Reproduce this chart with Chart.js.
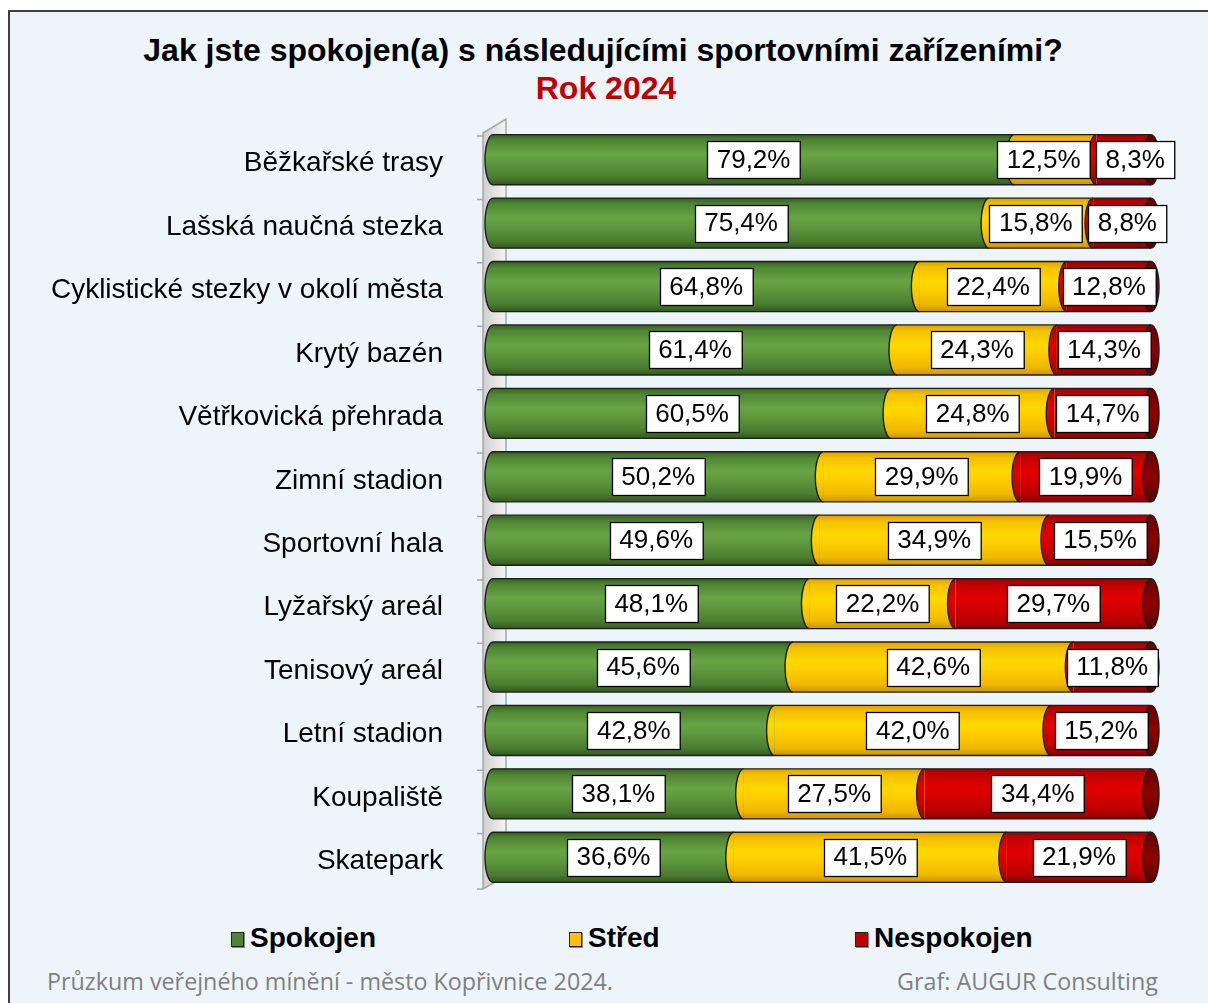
<!DOCTYPE html>
<html>
<head>
<meta charset="utf-8">
<script src="https://cdn.jsdelivr.net/npm/chart.js@4.4.1/dist/chart.umd.min.js"></script>
<style>
    body { margin: 0; width: 1208px; height: 1003px; overflow: hidden; position: relative; background: #fff; font-family: "Liberation Sans", Arial, sans-serif; }
    #frame { position: absolute; left: 8px; top: 10px; width: 1300px; height: 1100px; border: 2px solid #3f3f3f; background: #eef5fa; }
    .title { position: absolute; left: 0; width: 1208px; text-align: center; font-weight: bold; }
    #t1 { left: -1px; top: 31px; font-size: 32px; line-height: 38px; color: #000; }
    #t2 { left: 2px; top: 69px; font-size: 32px; line-height: 38px; color: #c00000; }
    #chartBox { position: absolute; left: 10px; top: 110px; width: 1190px; height: 800px; }
    .leg { position: absolute; top: 921px; font-weight: bold; font-size: 28px; line-height: 34px; color: #000; }
    .leg span { display: inline-block; width: 11px; height: 13px; border: 1.5px solid #222; margin-right: 6px; vertical-align: 0px; box-shadow: 1px 1px 0 #888; }
    .foot { position: absolute; top: 965px; font-family: "Open Sans", sans-serif; font-size: 23.3px; line-height: 32px; color: #7f7f7f; }
</style>
</head>
<body>
<div id="frame"></div>
<div class="title" id="t1">Jak jste spokojen(a) s následujícími sportovními zařízeními?</div>
<div class="title" id="t2">Rok 2024</div>
<div id="chartBox"><canvas id="satisfactionChart" width="1190" height="800"></canvas></div>
<div class="leg" style="left:231px"><span style="background:#538135"></span>Spokojen</div>
<div class="leg" style="left:569px"><span style="background:#ffc000"></span>Střed</div>
<div class="leg" style="left:855px"><span style="background:#c00000"></span>Nespokojen</div>
<div class="foot" style="left:47px">Průzkum veřejného mínění - město Kopřivnice 2024.</div>
<div class="foot" style="left:897px">Graf: AUGUR Consulting</div>

<script>
// Dati del grafico
const categories = [
    'Běžkařské trasy',
    'Lašská naučná stezka',
    'Cyklistické stezky v okolí města',
    'Krytý bazén',
    'Větřkovická přehrada',
    'Zimní stadion',
    'Sportovní hala',
    'Lyžařský areál',
    'Tenisový areál',
    'Letní stadion',
    'Koupaliště',
    'Skatepark'
];
const spokojen = [79.2, 75.4, 64.8, 61.4, 60.5, 50.2, 49.6, 48.1, 45.6, 42.8, 38.1, 36.6];
const stred = [12.5, 15.8, 22.4, 24.3, 24.8, 29.9, 34.9, 22.2, 42.6, 42.0, 27.5, 41.5];
const nespokojen = [8.3, 8.8, 12.8, 14.3, 14.7, 19.9, 15.5, 29.7, 11.8, 15.2, 34.4, 21.9];
const seriesNames = ['Spokojen', 'Střed', 'Nespokojen'];

const BAR_FRACTION = 0.79;

// Colori del cilindro (dall'alto verso il basso)
const palettes = [
    ['#365f22', '#4f8634', '#68a344', '#5f9a3e', '#4a7d30', '#33581f'],
    ['#d9a200', '#f5c000', '#ffd800', '#ffcf00', '#f0b800', '#c99400'],
    ['#9c0000', '#c40000', '#e20000', '#d60000', '#b80000', '#880000']
];

function cylinderFill(palette) {
    return (c) => {
        const chart = c.chart;
        const y = chart.scales.y;
        if (!y || !chart.chartArea) return palette[2];
        const yc = y.getPixelForValue(c.dataIndex);
        const h = (chart.chartArea.bottom - chart.chartArea.top) / categories.length * BAR_FRACTION;
        const g = chart.ctx.createLinearGradient(0, yc - h / 2, 0, yc + h / 2);
        const stops = [0, 0.12, 0.38, 0.55, 0.85, 1];
        stops.forEach((s, i) => g.addColorStop(s, palette[i]));
        return g;
    };
}

function fmt(v) {
    return v.toFixed(1).replace('.', ',') + '%';
}

// Parete 3D dietro le barre
const wallPlugin = {
    id: 'wall',
    beforeDatasetsDraw(chart) {
        const ctx = chart.ctx;
        const a = chart.chartArea;
        const x0 = a.left - 10, x1 = a.left + 13;
        const top = a.top + 5, bottom = a.bottom;
        ctx.save();
        const g = ctx.createLinearGradient(x0, 0, x1, 0);
        g.addColorStop(0, '#cfcfcf');
        g.addColorStop(1, '#f4f4f4');
        ctx.fillStyle = g;
        ctx.beginPath();
        ctx.moveTo(x0, top);
        ctx.lineTo(x1, top - 14);
        ctx.lineTo(x1, bottom - 13);
        ctx.lineTo(x0, bottom);
        ctx.closePath();
        ctx.fill();
        ctx.strokeStyle = '#a6a6a6';
        ctx.lineWidth = 1.5;
        ctx.stroke();
        // tacche
        const step = (a.bottom - a.top) / categories.length;
        ctx.beginPath();
        for (let i = 0; i <= categories.length; i++) {
            const ty = Math.min(a.top + 8 + i * step, bottom);
            ctx.moveTo(x0 - 6, ty);
            ctx.lineTo(x0, ty);
        }
        ctx.stroke();
        ctx.restore();
    }
};

// Estremità dei cilindri ed etichette
const cylinderPlugin = {
    id: 'cylinder',
    afterDatasetsDraw(chart) {
        const ctx = chart.ctx;
        const metas = chart.data.datasets.map((d, i) => chart.getDatasetMeta(i));
        const rx = 8;
        ctx.save();
        ctx.lineWidth = 1.4;
        ctx.strokeStyle = '#1e1e1e';
        for (let i = 0; i < categories.length; i++) {
            const els = metas.map(m => m.data[i]);
            const first = els[0], last = els[els.length - 1];
            const y = first.y, h = first.height, ry = h / 2;

            // contorno sopra e sotto
            ctx.beginPath();
            ctx.moveTo(first.base, y - ry);
            ctx.lineTo(last.x, y - ry);
            ctx.moveTo(first.base, y + ry);
            ctx.lineTo(last.x, y + ry);
            ctx.stroke();

            // bordo sinistro curvo di ogni segmento
            els.forEach((el) => {
                ctx.beginPath();
                ctx.ellipse(el.base, y, rx, ry, 0, Math.PI / 2, Math.PI * 1.5);
                ctx.closePath();
                ctx.fillStyle = el.options.backgroundColor;
                ctx.fill();
                ctx.beginPath();
                ctx.ellipse(el.base, y, rx, ry, 0, Math.PI / 2, Math.PI * 1.5);
                ctx.stroke();
            });

            // tappo destro
            const cap = ctx.createLinearGradient(0, y - ry, 0, y + ry);
            cap.addColorStop(0, '#6a0000');
            cap.addColorStop(0.5, '#8e0000');
            cap.addColorStop(1, '#5a0000');
            ctx.beginPath();
            ctx.ellipse(last.x, y, rx, ry, 0, 0, Math.PI * 2);
            ctx.fillStyle = cap;
            ctx.fill();
            ctx.stroke();
        }
        ctx.restore();

        // etichette dei valori
        ctx.save();
        ctx.font = '26px "Liberation Sans", Arial, sans-serif';
        ctx.textAlign = 'center';
        ctx.textBaseline = 'middle';
        const padX = 9.5, boxH = 37;
        for (let i = 0; i < categories.length; i++) {
            const boxes = metas.map((m, di) => {
                const el = m.data[i];
                const text = fmt(chart.data.datasets[di].data[i]);
                const w = ctx.measureText(text).width + padX * 2;
                return { text, w, cx: (el.base + el.x) / 2, y: el.y };
            });
            for (let it = 0; it < 6; it++) {
                for (let j = 0; j < boxes.length - 1; j++) {
                    const a = boxes[j], b = boxes[j + 1];
                    const overlap = (a.cx + a.w / 2 + 6) - (b.cx - b.w / 2);
                    if (overlap > 0) {
                        a.cx -= overlap / 2;
                        b.cx += overlap / 2;
                    }
                }
            }
            boxes.forEach((b) => {
                const x = Math.round(b.cx - b.w / 2) + 0.5;
                const top = Math.round(b.y - boxH / 2) + 0.5;
                ctx.fillStyle = '#fff';
                ctx.fillRect(x, top, b.w, boxH);
                ctx.strokeStyle = '#000';
                ctx.lineWidth = 1.3;
                ctx.strokeRect(x, top, b.w, boxH);
                ctx.fillStyle = '#000';
                ctx.fillText(b.text, b.cx, b.y + 1);
            });
        }
        ctx.restore();
    }
};

const ctx = document.getElementById('satisfactionChart').getContext('2d');

const satisfactionChart = new Chart(ctx, {
    type: 'bar',
    data: {
        labels: categories,
        datasets: [
            { label: seriesNames[0], data: spokojen, backgroundColor: cylinderFill(palettes[0]) },
            { label: seriesNames[1], data: stred, backgroundColor: cylinderFill(palettes[1]) },
            { label: seriesNames[2], data: nespokojen, backgroundColor: cylinderFill(palettes[2]) }
        ]
    },
    options: {
        indexAxis: 'y',
        responsive: false,
        animation: false,
        datasets: {
            bar: { categoryPercentage: 1, barPercentage: BAR_FRACTION, borderWidth: 0 }
        },
        layout: { padding: { top: 18, bottom: 21, left: 0, right: 49 } },
        scales: {
            x: { stacked: true, min: 0, max: 100, display: false },
            y: {
                stacked: true,
                // tacche invisibili: servono solo a distanziare le etichette
                grid: { display: true, drawOnChartArea: false, drawTicks: true, tickLength: 50, color: 'transparent' },
                border: { display: false },
                ticks: {
                    color: '#000',
                    padding: 0,
                    labelOffset: 4,
                    font: { family: '"Liberation Sans", Arial, sans-serif', size: 28 }
                },
                afterFit(scale) { scale.width = 483; }
            }
        },
        plugins: {
            legend: { display: false },
            tooltip: { enabled: false }
        }
    },
    plugins: [wallPlugin, cylinderPlugin]
});
</script>
</body>
</html>
